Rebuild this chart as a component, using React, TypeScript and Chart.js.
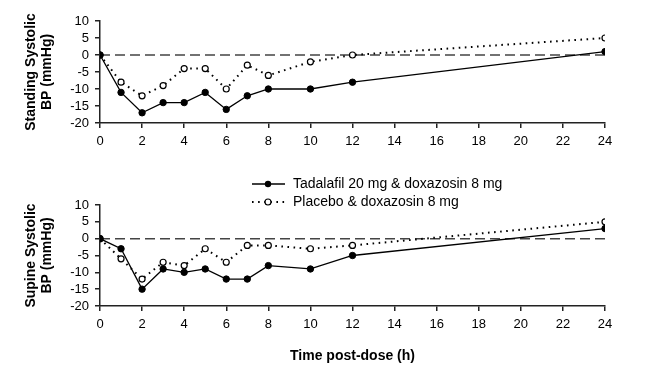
import React, { useEffect, useRef } from 'react';
import { Chart, registerables } from 'chart.js';
Chart.register(...registerables);

const hours = [0, 1, 2, 3, 4, 5, 6, 7, 8, 10, 12, 24];
const standingTadalafil = [0, -11, -17, -14, -14, -11, -16, -12, -10, -10, -8, 1];
const standingPlacebo = [0, -8, -12, -9, -4, -4, -10, -3, -6, -2, 0, 5];
const supineTadalafil = [0, -3, -15, -9, -10, -9, -12, -12, -8, -9, -5, 3];
const supinePlacebo = [0, -6, -12, -7, -8, -3, -7, -2, -2, -3, -2, 5];
const baselineHours = [0, 24];
const baselineValues = [0, 0];
const xTicks = [0, 2, 4, 6, 8, 10, 12, 14, 16, 18, 20, 22, 24];
const yTicks = [-20, -15, -10, -5, 0, 5, 10];
const seriesNames = ['Tadalafil 20 mg & doxazosin 8 mg', 'Placebo & doxazosin 8 mg'];
const standingTitle = ['Standing Systolic', 'BP (mmHg)'];
const supineTitle = ['Supine Systolic', 'BP (mmHg)'];
const xTitle = 'Time post-dose (h)';

const FONT = "Arial, 'Liberation Sans', sans-serif";

const toPts = (xs: number[], ys: number[]) => xs.map((x, i) => ({ x, y: ys[i] }));

const legendPlugin = {
  id: 'customLegend',
  afterDraw(chart: any) {
    if (!chart.options.plugins.customLegend?.show) return;
    const ctx = chart.ctx;
    ctx.save();
    const x0 = 252, x1 = 285, xm = 268, xt = 293;
    const rows = [24, 42];
    ctx.strokeStyle = '#000';
    ctx.lineWidth = 1.3;
    ctx.setLineDash([]);
    ctx.beginPath();
    ctx.moveTo(x0, rows[0]);
    ctx.lineTo(x1, rows[0]);
    ctx.stroke();
    ctx.fillStyle = '#000';
    ctx.beginPath();
    ctx.arc(xm, rows[0], 3.2, 0, Math.PI * 2);
    ctx.fill();
    ctx.lineWidth = 2;
    ctx.setLineDash([1.6, 4.5]);
    ctx.beginPath();
    ctx.moveTo(x0, rows[1]);
    ctx.lineTo(x1, rows[1]);
    ctx.stroke();
    ctx.setLineDash([]);
    ctx.fillStyle = '#fff';
    ctx.lineWidth = 1.2;
    ctx.beginPath();
    ctx.arc(xm, rows[1], 3, 0, Math.PI * 2);
    ctx.fill();
    ctx.stroke();
    ctx.fillStyle = '#000';
    ctx.font = `14px ${FONT}`;
    ctx.textBaseline = 'middle';
    ctx.textAlign = 'left';
    ctx.fillText(seriesNames[0], xt, rows[0]);
    ctx.fillText(seriesNames[1], xt, rows[1]);
    ctx.restore();
  },
};

function makeConfig(tad: number[], plc: number[], yTitle: string[], o: { padTop: number; xHeight: number; showXTitle: boolean; legend: boolean }) {
  return {
    type: 'line' as const,
    data: {
      datasets: [
        {
          label: seriesNames[0],
          data: toPts(hours, tad),
          borderColor: '#000',
          borderWidth: 1.3,
          pointRadius: 3.2,
          pointBackgroundColor: '#000',
          pointBorderColor: '#000',
          pointBorderWidth: 1,
          fill: false,
          order: 1,
        },
        {
          label: seriesNames[1],
          data: toPts(hours, plc),
          borderColor: '#000',
          borderWidth: 2,
          borderDash: [1.6, 4.5],
          pointRadius: 3,
          pointBackgroundColor: '#fff',
          pointBorderColor: '#000',
          pointBorderWidth: 1.2,
          fill: false,
          order: 2,
        },
        {
          label: 'baseline',
          data: toPts(baselineHours, baselineValues),
          borderColor: '#444',
          borderWidth: 1.5,
          borderDash: [10, 5],
          pointRadius: 0,
          fill: false,
          order: 3,
        },
      ],
    },
    options: {
      responsive: false,
      animation: false as const,
      devicePixelRatio: 1,
      layout: { padding: { top: o.padTop, right: 55, left: 0, bottom: 0 } },
      plugins: {
        legend: { display: false },
        tooltip: { enabled: false },
        customLegend: { show: o.legend },
      } as any,
      scales: {
        x: {
          type: 'linear' as const,
          min: 0,
          max: 24,
          afterBuildTicks: (s: any) => { s.ticks = xTicks.map((v) => ({ value: v })); },
          afterFit: (s: any) => { s.height = o.xHeight; },
          ticks: { color: '#000', font: { family: FONT, size: 13 }, padding: 6, maxRotation: 0, autoSkip: false },
          grid: { drawOnChartArea: false, drawTicks: true, tickLength: 5, color: '#222', lineWidth: 1.5 },
          border: { color: '#222', width: 1.5 },
          title: {
            display: o.showXTitle,
            text: xTitle,
            color: '#000',
            font: { family: FONT, size: 14, weight: 'bold' as const },
            padding: { top: 0, bottom: 10 },
          },
        },
        y: {
          type: 'linear' as const,
          min: -20,
          max: 10,
          afterBuildTicks: (s: any) => { s.ticks = yTicks.map((v) => ({ value: v })); },
          afterFit: (s: any) => { s.width = 100; },
          ticks: { color: '#000', font: { family: FONT, size: 13 }, padding: 6, autoSkip: false },
          grid: { drawOnChartArea: false, drawTicks: true, tickLength: 5, color: '#222', lineWidth: 1.5 },
          border: { color: '#222', width: 1.5 },
          title: {
            display: true,
            text: yTitle,
            color: '#000',
            font: { family: FONT, size: 14, weight: 'bold' as const, lineHeight: 1.15 },
            padding: { top: 23, bottom: 0 },
          },
        },
      },
    },
    plugins: [legendPlugin],
  };
}

function Panel({ tad, plc, title, height, top, padTop, xHeight, showXTitle, legend }: any) {
  const ref = useRef<HTMLCanvasElement>(null);
  useEffect(() => {
    if (!ref.current) return;
    const chart = new Chart(ref.current, makeConfig(tad, plc, title, { padTop, xHeight, showXTitle, legend }) as any);
    return () => chart.destroy();
  }, []);
  return (
    <canvas
      ref={ref}
      width={660}
      height={height}
      style={{ position: 'absolute', left: 0, top, width: 660, height }}
    />
  );
}

export default function App() {
  return (
    <div style={{ position: 'fixed', left: 0, top: 0, width: 660, height: 375, background: '#fff' }}>
      <Panel tad={standingTadalafil} plc={standingPlacebo} title={standingTitle} height={160} top={0} padTop={21} xHeight={37} showXTitle={false} legend={false} />
      <Panel tad={supineTadalafil} plc={supinePlacebo} title={supineTitle} height={215} top={160} padTop={45} xHeight={69} showXTitle={true} legend={true} />
    </div>
  );
}
